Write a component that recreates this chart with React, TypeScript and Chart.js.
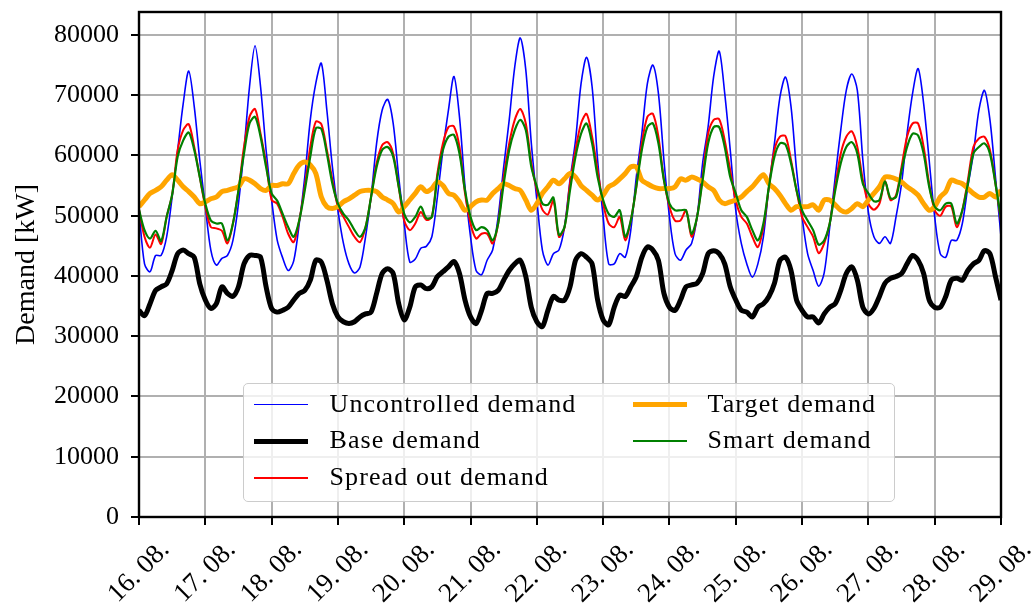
import React, { useEffect, useRef } from 'react';
import { Chart, registerables } from 'chart.js';

Chart.register(...registerables);

// x axis: one tick per day (16.08. ... 29.08.), data sampled every 2 hours
const dayLabels = [
  '16. 08.', '17. 08.', '18. 08.', '19. 08.', '20. 08.', '21. 08.', '22. 08.',
  '23. 08.', '24. 08.', '25. 08.', '26. 08.', '27. 08.', '28. 08.', '29. 08.',
];
const STEP_HOURS = 2;
const yTickValues = [0, 10000, 20000, 30000, 40000, 50000, 60000, 70000, 80000];

// values in thousands of kW, one row per day (00h, 02h, ... 22h), last value = 29.08. 00h
const uncontrolled = [
  50.9, 42.0, 40.7, 43.4, 43.4, 46.5, 53.1, 60.9, 68.6, 74.0, 68.1, 59.2,
  51.5, 44.3, 41.8, 42.9, 43.4, 45.9, 52.0, 60.9, 71.4, 78.2, 71.4, 60.9,
  52.6, 46.0, 43.0, 40.9, 42.5, 48.7, 56.4, 65.9, 72.0, 75.3, 67.5, 58.1,
  50.9, 45.4, 42.0, 40.5, 41.5, 46.5, 53.1, 62.0, 67.5, 69.3, 65.3, 56.4,
  48.7, 42.3, 42.8, 44.6, 44.9, 46.5, 53.1, 60.9, 67.5, 73.1, 66.4, 54.8,
  46.5, 40.9, 40.2, 42.6, 44.3, 49.8, 58.1, 65.9, 74.7, 79.5, 74.2, 62.0,
  52.6, 44.3, 41.8, 43.7, 44.3, 48.1, 55.9, 62.5, 71.9, 76.3, 71.4, 59.2,
  49.8, 42.0, 42.0, 43.7, 43.1, 47.6, 56.4, 63.6, 71.9, 75.0, 70.3, 59.2,
  49.8, 43.7, 42.6, 44.3, 45.4, 49.8, 58.7, 64.8, 73.1, 77.3, 70.3, 60.9,
  50.9, 45.4, 42.0, 39.8, 42.0, 46.5, 54.8, 62.0, 69.7, 73.0, 68.1, 57.6,
  49.8, 43.7, 40.9, 38.3, 40.5, 48.1, 56.4, 64.2, 70.8, 73.5, 70.8, 59.2,
  50.6, 46.5, 45.4, 46.5, 45.4, 49.8, 55.3, 63.6, 70.3, 74.4, 68.6, 59.2,
  49.8, 43.7, 43.1, 45.9, 45.9, 48.7, 54.8, 60.3, 67.5, 70.8, 65.9, 56.4,
  46.5,
];

const base = [
  34.3, 33.4, 35.4, 37.6, 38.2, 38.7, 40.9, 43.7, 44.3, 43.7, 43.1, 38.7,
  36.0, 34.6, 35.4, 38.2, 37.1, 36.6, 38.2, 42.0, 43.4, 43.4, 43.1, 38.2,
  34.6, 34.0, 34.3, 34.8, 36.0, 37.1, 37.6, 39.3, 42.6, 42.3, 39.3, 35.4,
  33.2, 32.4, 32.1, 32.4, 33.2, 33.7, 34.0, 37.1, 40.4, 41.2, 40.4, 35.4,
  32.7, 34.8, 38.2, 38.5, 37.9, 38.2, 39.9, 40.7, 41.5, 42.4, 40.4, 36.0,
  33.2, 32.1, 34.3, 37.1, 37.1, 37.6, 39.3, 40.9, 42.0, 42.6, 39.9, 34.8,
  32.4, 31.6, 34.3, 36.6, 36.0, 36.0, 38.2, 42.6, 43.7, 43.1, 42.0, 36.0,
  32.7, 31.9, 34.8, 36.8, 36.6, 38.2, 39.9, 43.1, 44.8, 44.3, 42.6, 37.1,
  34.8, 34.3, 36.0, 38.2, 38.5, 38.8, 40.4, 43.7, 44.2, 43.7, 42.0, 38.2,
  36.0, 34.3, 34.0, 33.2, 34.8, 35.4, 36.6, 38.8, 42.6, 43.1, 40.9, 36.0,
  34.3, 33.2, 33.2, 32.2, 33.7, 34.8, 35.4, 37.6, 40.4, 41.5, 39.3, 34.8,
  33.7, 34.6, 36.6, 38.8, 39.6, 39.9, 40.4, 42.0, 43.4, 42.6, 40.4, 36.0,
  34.8, 34.8, 36.6, 39.3, 39.6, 39.3, 40.9, 42.0, 42.6, 44.2, 43.7, 39.9,
  36.0,
];

const spreadOut = [
  51.0, 46.5, 44.7, 46.9, 45.3, 49.8, 53.5, 60.9, 64.2, 65.2, 61.4, 56.4,
  51.5, 48.1, 47.9, 47.5, 45.4, 48.7, 54.2, 61.4, 66.4, 67.7, 63.6, 58.7,
  52.6, 52.0, 49.8, 47.0, 45.6, 49.2, 54.8, 61.4, 65.6, 65.2, 60.9, 55.9,
  51.5, 49.8, 48.1, 46.5, 45.6, 48.1, 53.1, 58.7, 61.7, 62.2, 60.3, 54.8,
  49.2, 47.6, 48.7, 50.6, 49.3, 49.8, 57.0, 62.0, 64.7, 64.8, 61.4, 53.7,
  48.7, 46.2, 47.0, 47.0, 45.4, 48.7, 56.4, 62.0, 65.9, 67.7, 65.3, 58.7,
  54.2, 51.0, 50.2, 52.5, 46.5, 48.0, 55.3, 60.9, 65.3, 66.9, 63.1, 57.5,
  52.0, 48.7, 48.1, 49.8, 45.9, 49.2, 54.8, 62.0, 66.4, 66.9, 63.1, 55.9,
  51.5, 49.2, 49.2, 50.9, 46.5, 49.8, 56.4, 63.6, 65.9, 66.0, 62.5, 57.5,
  52.5, 49.8, 48.7, 46.5, 44.8, 48.1, 54.8, 60.9, 63.1, 63.2, 59.2, 54.2,
  49.8, 48.1, 46.5, 43.8, 45.4, 48.7, 54.8, 60.3, 63.1, 64.0, 61.4, 55.9,
  52.0, 51.0, 52.0, 55.7, 52.6, 53.4, 58.1, 63.1, 65.3, 65.3, 61.4, 55.3,
  50.9, 50.0, 51.5, 51.5, 48.1, 50.9, 55.9, 61.4, 62.8, 63.1, 60.9, 55.3,
  49.0,
];

const target = [
  51.5, 52.6, 53.7, 54.2, 54.8, 55.9, 56.8, 55.9, 54.8, 54.0, 53.1, 52.0,
  52.3, 52.8, 53.1, 54.0, 54.2, 54.5, 54.8, 56.1, 55.9, 55.3, 54.5, 54.2,
  55.0, 55.0, 55.3, 55.3, 57.0, 58.4, 58.9, 58.4, 57.0, 53.1, 51.5, 51.2,
  51.5, 52.3, 52.8, 53.4, 54.0, 54.2, 54.2, 54.0, 53.1, 52.6, 52.0, 50.6,
  51.5, 52.6, 53.7, 54.8, 54.0, 54.5, 55.6, 55.0, 53.7, 53.4, 52.3, 50.9,
  51.5, 52.3, 52.6, 52.6, 53.7, 54.5, 55.3, 55.0, 54.5, 54.2, 52.6, 50.9,
  52.0, 53.7, 54.8, 55.9, 55.3, 56.1, 57.0, 56.4, 55.0, 54.2, 53.4, 52.6,
  53.4, 54.8, 55.3, 56.1, 57.0, 58.1, 58.1, 55.9, 55.3, 54.8, 54.5, 54.5,
  54.5, 54.8, 56.1, 55.9, 56.4, 56.1, 55.6, 54.8, 54.2, 52.6, 52.0, 52.3,
  52.6, 53.1, 54.0, 54.8, 55.9, 56.8, 55.3, 54.5, 53.4, 52.0, 50.9, 51.5,
  51.5, 51.5, 51.8, 50.9, 52.6, 52.6, 51.8, 50.9, 50.6, 51.2, 52.0, 51.5,
  52.6, 53.7, 54.8, 56.4, 56.4, 56.1, 55.6, 54.8, 54.2, 53.4, 52.0, 50.9,
  51.5, 53.1, 54.0, 55.9, 55.6, 55.3, 54.5, 53.7, 53.1, 53.1, 53.7, 53.1,
  54.2,
];

const smart = [
  51.0, 47.6, 46.2, 47.5, 45.8, 49.8, 53.5, 59.8, 62.5, 63.8, 60.9, 56.4,
  52.0, 49.2, 48.7, 48.7, 45.9, 48.7, 54.2, 60.3, 65.3, 66.4, 63.1, 58.1,
  53.7, 52.5, 50.3, 48.1, 46.5, 49.2, 54.2, 59.8, 64.5, 64.4, 60.3, 55.3,
  52.0, 50.3, 49.2, 47.6, 46.5, 48.1, 53.1, 58.1, 60.9, 61.4, 59.8, 54.8,
  50.3, 48.9, 49.8, 51.5, 49.6, 49.8, 56.4, 60.9, 63.1, 63.4, 60.3, 54.2,
  49.8, 47.6, 48.1, 47.6, 45.9, 48.7, 55.3, 60.9, 64.2, 65.9, 64.2, 58.1,
  54.8, 52.0, 51.8, 53.0, 46.8, 48.1, 54.2, 59.8, 63.6, 65.3, 62.0, 56.4,
  52.6, 50.3, 49.8, 50.9, 46.5, 49.2, 54.8, 60.9, 64.7, 65.3, 62.0, 55.9,
  52.0, 50.9, 50.9, 50.9, 47.0, 49.8, 55.9, 62.0, 64.7, 64.7, 61.4, 56.4,
  53.7, 50.9, 49.8, 47.6, 45.9, 48.7, 54.8, 59.8, 62.0, 61.8, 58.7, 54.2,
  50.9, 49.2, 47.6, 45.2, 45.9, 48.7, 54.2, 58.7, 61.4, 62.2, 60.3, 55.3,
  53.7, 52.4, 52.6, 55.7, 52.9, 53.1, 57.5, 61.4, 63.6, 63.3, 60.3, 54.8,
  51.5, 50.9, 52.0, 52.0, 48.7, 50.9, 55.3, 60.3, 61.4, 62.0, 60.3, 55.3,
  49.5,
];

const seriesNames = ['Uncontrolled demand', 'Base demand', 'Spread out demand', 'Target demand', 'Smart demand'];
const seriesValues = [uncontrolled, base, spreadOut, target, smart];
const seriesColors = ['#0000ff', '#000000', '#ff0000', '#ffa500', '#008000'];
const seriesWidths = [1.6, 5, 2, 5, 2.2];

const FONT = '"Liberation Serif", "Times New Roman", serif';

// legend layout (page coordinates)
const LEG = { left: 243, top: 383, width: 652, height: 119 };
const legendCols = [
  { line: 254, text: 330 },
  { line: 633, text: 708 },
];
const legendRows = [405, 441.5, 478];

export default function App() {
  const ref = useRef<HTMLCanvasElement | null>(null);

  useEffect(() => {
    document.body.style.margin = '0';
    const canvas = ref.current;
    if (!canvas) return;

    const xLabelsPlugin = {
      id: 'xDayLabels',
      afterDraw(chart: any) {
        const { ctx, chartArea } = chart;
        const xs = chart.scales.x;
        ctx.save();
        ctx.font = `27px ${FONT}`;
        ctx.fillStyle = '#000';
        ctx.textAlign = 'center';
        ctx.textBaseline = 'middle';
        dayLabels.forEach((lab, i) => {
          const px = xs.getPixelForValue(i * 24);
          ctx.save();
          ctx.translate(px, chartArea.bottom + 55);
          ctx.rotate(-Math.PI / 4);
          ctx.fillText(lab, 0, 0);
          ctx.restore();
        });
        ctx.restore();
      },
    };

    const framePlugin = {
      id: 'frame',
      afterDraw(chart: any) {
        const { ctx, chartArea: a } = chart;
        ctx.save();
        ctx.strokeStyle = '#000';
        ctx.lineWidth = 2.4;
        ctx.strokeRect(a.left, a.top, a.right - a.left, a.bottom - a.top);
        ctx.restore();
      },
    };

    const datasets = seriesNames.map((name, k) => ({
      label: name,
      data: seriesValues[k].map((v, i) => ({ x: i * STEP_HOURS, y: v * 1000 })),
      borderColor: seriesColors[k],
      backgroundColor: seriesColors[k],
      borderWidth: seriesWidths[k],
      pointRadius: 0,
      tension: 0.3,
      fill: false,
      clip: 0,
      order: seriesNames.length - k,
    }));

    const chart = new Chart(canvas, {
      type: 'line',
      data: { datasets },
      plugins: [xLabelsPlugin, framePlugin],
      options: {
        animation: false,
        responsive: false,
        events: [],
        layout: { padding: { left: 0, right: 35, top: 12, bottom: 0 } },
        plugins: { legend: { display: false }, tooltip: { enabled: false } },
        scales: {
          x: {
            type: 'linear',
            min: 0,
            max: (dayLabels.length - 1) * 24,
            afterFit: (s: any) => {
              s.height = 89;
              s.paddingLeft = 0;
              s.paddingRight = 0;
            },
            ticks: { display: false, stepSize: 24 },
            border: { display: false },
            grid: {
              color: '#b0b0b0',
              lineWidth: 2,
              tickColor: '#000',
              tickWidth: 2,
              tickLength: 8,
            },
          },
          y: {
            type: 'linear',
            min: 0,
            max: 83800,
            afterFit: (s: any) => {
              s.width = 139;
              s.paddingTop = 0;
              s.paddingBottom = 0;
            },
            afterBuildTicks: (s: any) => {
              s.ticks = yTickValues.map((v) => ({ value: v }));
            },
            ticks: {
              autoSkip: false,
              color: '#000',
              padding: 12,
              font: { family: FONT, size: 26 },
              callback: (v: any) => String(v),
            },
            border: { display: false },
            grid: {
              color: '#b0b0b0',
              lineWidth: 2,
              tickColor: '#000',
              tickWidth: 2,
              tickLength: 8,
            },
            title: {
              display: true,
              text: 'Demand [kW]',
              color: '#000',
              font: { family: FONT, size: 28 },
              padding: { top: 10, bottom: 0 },
            },
          },
        },
      },
    });
    return () => chart.destroy();
  }, []);

  const legendOrder = [0, 1, 2, 3, 4];
  return (
    <div style={{ position: 'relative', width: 1036, height: 606 }}>
      <canvas ref={ref} width={1036} height={606} style={{ display: 'block' }} />
      <div
        style={{
          position: 'absolute',
          left: LEG.left,
          top: LEG.top,
          width: LEG.width,
          height: LEG.height,
          boxSizing: 'border-box',
          border: '1.5px solid #cccccc',
          borderRadius: 5,
          background: 'rgba(255,255,255,0.8)',
        }}
      >
        {legendOrder.map((k) => {
          const col = legendCols[Math.floor(k / 3)];
          const rowY = legendRows[k % 3];
          const offX = LEG.left + 1.5;
          const offY = LEG.top + 1.5;
          return (
            <React.Fragment key={k}>
              <div
                style={{
                  position: 'absolute',
                  left: col.line - offX,
                  top: rowY - offY - seriesWidths[k] / 2,
                  width: 54,
                  height: seriesWidths[k],
                  background: seriesColors[k],
                }}
              />
              <div
                style={{
                  position: 'absolute',
                  left: col.text - offX,
                  top: rowY - offY,
                  transform: 'translateY(-52%)',
                  fontFamily: FONT,
                  fontSize: 26,
                  letterSpacing: '1.1px',
                  lineHeight: '30px',
                  whiteSpace: 'nowrap',
                  color: '#000',
                }}
              >
                {seriesNames[k]}
              </div>
            </React.Fragment>
          );
        })}
      </div>
    </div>
  );
}
